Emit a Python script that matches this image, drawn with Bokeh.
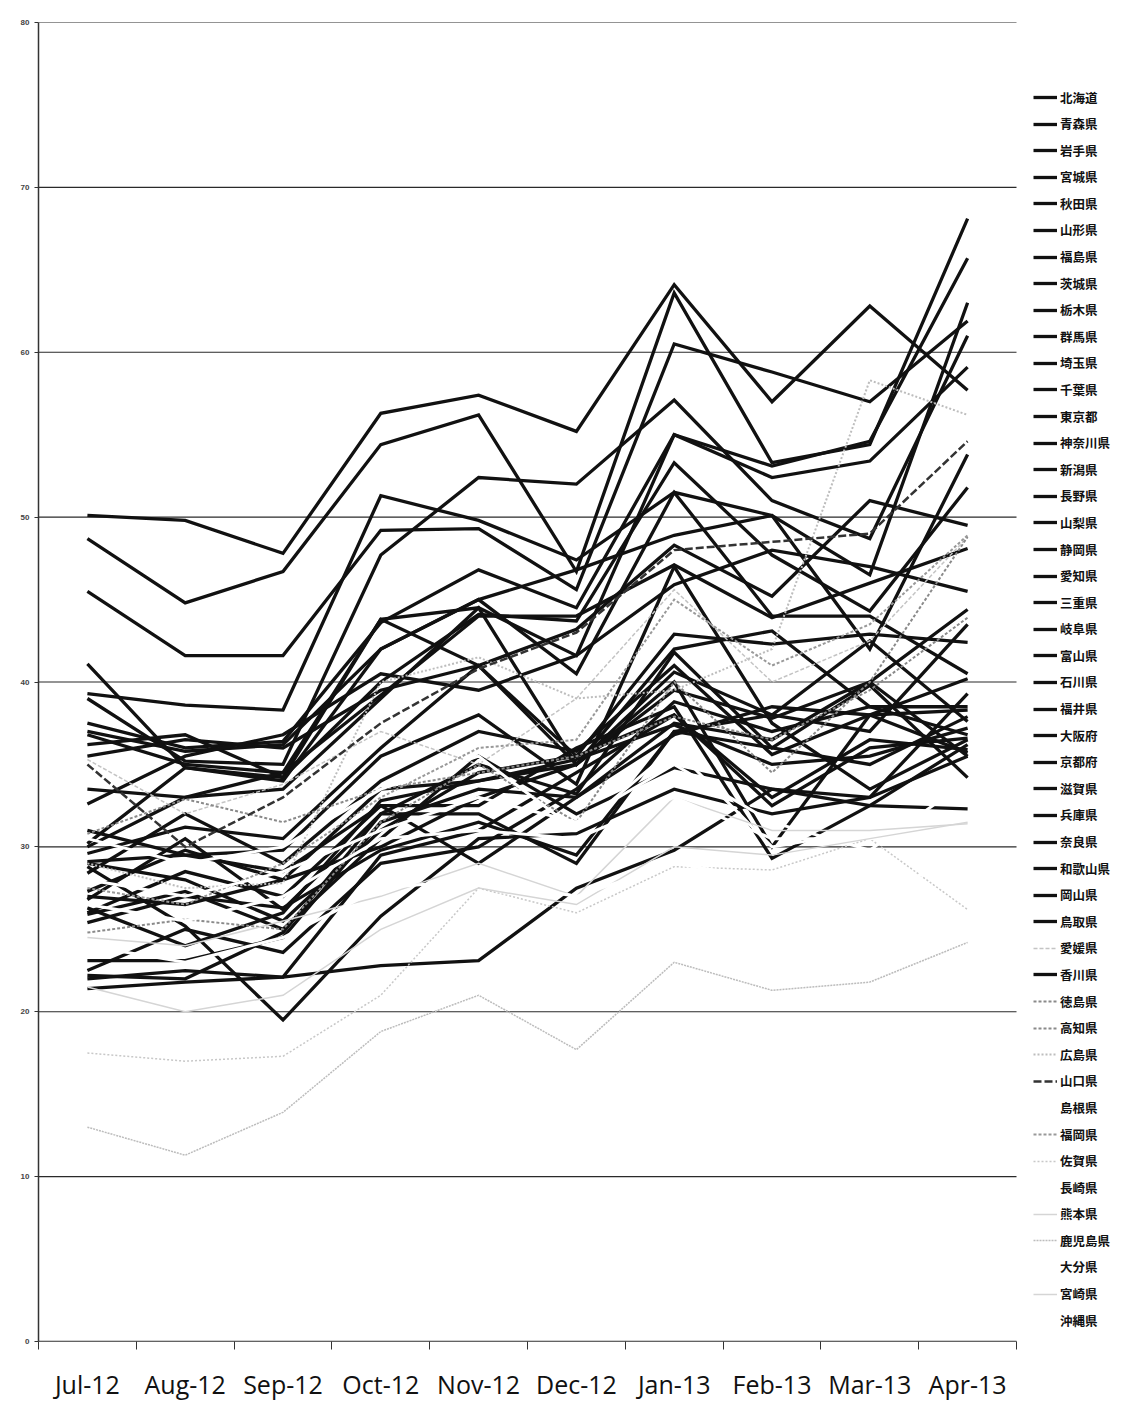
from bokeh.plotting import figure
from bokeh.models import Range1d, FixedTicker, Legend, LegendItem
from bokeh.embed import file_html
from bokeh.resources import INLINE

months = ["Jul-12", "Aug-12", "Sep-12", "Oct-12", "Nov-12", "Dec-12", "Jan-13", "Feb-13", "Mar-13", "Apr-13"]
y_ticks = [0, 10, 20, 30, 40, 50, 60, 70, 80]

hokkaido = [50.1, 49.8, 47.8, 56.3, 57.4, 55.2, 64.1, 57.0, 62.8, 57.7]
aomori = [48.7, 44.8, 46.7, 54.4, 56.2, 46.7, 63.6, 53.3, 54.4, 68.1]
iwate = [45.5, 41.6, 41.6, 49.2, 49.3, 45.6, 60.5, 58.8, 57.0, 61.9]
miyagi = [41.1, 34.8, 34.2, 43.8, 44.5, 41.6, 55.0, 53.1, 54.6, 65.7]
akita = [39.3, 38.6, 38.3, 51.3, 49.8, 47.4, 51.5, 50.1, 46.5, 63.0]
yamagata = [39.0, 35.2, 35.0, 47.7, 52.4, 52.0, 57.1, 51.0, 48.7, 61.0]
fukushima = [37.5, 36.0, 36.4, 43.6, 46.8, 44.5, 55.0, 52.4, 53.4, 59.1]
ibaraki = [37.0, 35.8, 36.2, 42.0, 45.0, 46.8, 48.9, 50.1, 42.0, 53.8]
tochigi = [36.2, 36.8, 34.2, 40.0, 44.1, 43.7, 53.3, 47.7, 44.3, 51.8]
gunma = [35.5, 36.5, 36.0, 39.5, 41.0, 43.2, 48.3, 45.2, 51.0, 49.5]
saitama = [33.5, 33.0, 34.5, 39.2, 44.0, 44.0, 47.1, 43.9, 46.0, 48.1]
chiba = [32.6, 35.5, 36.8, 40.5, 39.5, 41.6, 45.9, 48.0, 47.0, 45.5]
tokyo = [36.8, 35.0, 34.5, 43.8, 41.0, 35.5, 42.9, 42.3, 42.9, 42.4]
kanagawa = [30.2, 34.8, 34.0, 42.0, 45.0, 40.5, 51.5, 44.0, 44.0, 40.5]
niigata = [30.0, 33.0, 33.5, 39.0, 44.5, 35.0, 42.0, 43.1, 38.5, 38.5]
nagano = [29.6, 31.2, 30.5, 36.0, 41.0, 35.0, 40.6, 38.0, 42.5, 37.6]
yamanashi = [29.1, 29.5, 29.8, 35.5, 38.0, 33.8, 47.0, 37.5, 33.5, 36.5]
shizuoka = [28.4, 32.0, 29.0, 34.0, 37.0, 35.8, 41.0, 35.6, 38.0, 35.7]
aichi = [27.3, 29.8, 28.0, 33.5, 34.0, 35.0, 39.5, 37.8, 40.0, 35.5]
mie = [26.8, 30.5, 26.2, 32.0, 35.0, 33.2, 41.8, 36.0, 39.8, 34.2]
gifu = [26.0, 28.5, 27.0, 32.5, 32.5, 36.0, 38.5, 29.3, 32.5, 36.2]
toyama = [25.4, 27.0, 26.3, 29.8, 31.5, 29.5, 37.0, 36.0, 35.0, 37.9]
ishikawa = [29.0, 28.0, 25.5, 31.0, 34.5, 35.5, 38.0, 33.0, 36.5, 35.9]
fukui = [31.0, 29.5, 28.5, 32.5, 29.0, 33.0, 36.8, 38.5, 38.0, 38.3]
osaka = [28.8, 25.2, 19.5, 25.8, 30.5, 30.8, 33.5, 32.0, 33.0, 35.5]
kyoto = [27.0, 26.5, 28.0, 30.0, 33.0, 35.0, 40.0, 30.0, 38.0, 40.2]
shiga = [23.1, 23.1, 24.5, 31.5, 33.5, 33.0, 37.5, 36.5, 40.0, 44.4]
hyogo = [22.5, 25.0, 23.6, 29.0, 30.0, 33.5, 38.8, 37.0, 38.5, 36.8]
nara = [25.9, 27.3, 25.0, 30.5, 35.5, 32.0, 34.8, 33.5, 32.5, 32.3]
wakayama = [22.0, 22.5, 22.1, 29.5, 31.0, 34.5, 38.0, 32.5, 36.0, 36.6]
okayama = [26.3, 24.0, 26.0, 32.8, 34.0, 35.3, 37.4, 35.0, 35.5, 37.2]
tottori = [21.4, 21.8, 22.1, 22.8, 23.1, 27.5, 29.8, 33.5, 33.0, 39.3]
ehime = [35.3, 32.0, 33.8, 37.0, 35.0, 39.0, 45.6, 40.0, 42.5, 48.8]
kagawa = [22.2, 22.0, 24.8, 32.0, 32.0, 29.0, 37.0, 38.0, 37.0, 43.5]
tokushima = [30.8, 32.9, 31.5, 33.5, 34.5, 35.5, 37.9, 36.5, 39.5, 43.9]
kochi = [24.8, 25.6, 25.0, 31.5, 35.0, 31.5, 40.0, 34.5, 40.0, 48.8]
hiroshima = [29.0, 27.5, 27.8, 40.0, 41.5, 39.0, 39.5, 42.0, 58.3, 56.2]
yamaguchi = [35.0, 30.0, 33.0, 37.5, 40.8, 43.0, 48.0, 48.5, 49.0, 54.6]
shimane = [30.5, 29.0, 30.0, 33.5, 35.5, 31.0, 36.0, 30.0, 31.0, 32.0]
fukuoka = [27.5, 26.5, 29.0, 33.0, 36.0, 36.5, 45.0, 41.0, 43.5, 48.9]
saga = [17.5, 17.0, 17.3, 21.0, 27.5, 26.0, 28.8, 28.6, 30.5, 26.2]
nagasaki = [28.0, 27.0, 28.5, 31.0, 33.0, 31.5, 35.0, 31.5, 29.8, 34.0]
kumamoto = [24.5, 24.0, 25.5, 27.0, 29.0, 27.0, 33.0, 31.0, 31.0, 31.4]
kagoshima = [13.0, 11.3, 13.9, 18.8, 21.0, 17.7, 23.0, 21.3, 21.8, 24.2]
oita = [26.5, 25.5, 27.0, 30.5, 31.0, 30.5, 33.0, 30.5, 30.5, 30.8]
miyazaki = [21.5, 20.0, 21.0, 25.0, 27.5, 26.5, 30.0, 29.5, 30.5, 31.5]
okinawa = [24.0, 23.0, 24.5, 27.5, 28.0, 27.0, 29.0, 28.0, 27.5, 29.0]

names = ["北海道", "青森県", "岩手県", "宮城県", "秋田県", "山形県", "福島県", "茨城県", "栃木県", "群馬県",
         "埼玉県", "千葉県", "東京都", "神奈川県", "新潟県", "長野県", "山梨県", "静岡県", "愛知県", "三重県",
         "岐阜県", "富山県", "石川県", "福井県", "大阪府", "京都府", "滋賀県", "兵庫県", "奈良県", "和歌山県",
         "岡山県", "鳥取県", "愛媛県", "香川県", "徳島県", "高知県", "広島県", "山口県", "島根県", "福岡県",
         "佐賀県", "長崎県", "熊本県", "鹿児島県", "大分県", "宮崎県", "沖縄県"]
series = [hokkaido, aomori, iwate, miyagi, akita, yamagata, fukushima, ibaraki, tochigi, gunma,
          saitama, chiba, tokyo, kanagawa, niigata, nagano, yamanashi, shizuoka, aichi, mie,
          gifu, toyama, ishikawa, fukui, osaka, kyoto, shiga, hyogo, nara, wakayama,
          okayama, tottori, ehime, kagawa, tokushima, kochi, hiroshima, yamaguchi, shimane, fukuoka,
          saga, nagasaki, kumamoto, kagoshima, oita, miyazaki, okinawa]

# styles (color, width, dash)
BLACK = ("#111111", 3.3, "solid")
STY = {
    "愛媛県": ("#c4c4c4", 1.5, "4 2"),
    "徳島県": ("#8a8a8a", 2, "3 2"),
    "高知県": ("#8a8a8a", 2, "3 2"),
    "広島県": ("#bdbdbd", 2, "2 2"),
    "山口県": ("#333333", 2.5, "8 3"),
    "島根県": ("#ffffff", 3, "solid"),
    "福岡県": ("#999999", 2, "3 2"),
    "佐賀県": ("#c8c8c8", 1.5, "2 2"),
    "長崎県": ("#ffffff", 3, "solid"),
    "熊本県": ("#d5d5d5", 1.5, "solid"),
    "鹿児島県": ("#bcbcbc", 1.5, "2 1"),
    "大分県": ("#ffffff", 3, "solid"),
    "宮崎県": ("#d5d5d5", 1.5, "solid"),
    "沖縄県": ("#ffffff", 3, "solid"),
}

n_cat = len(months)
xs = [i + 0.5 for i in range(n_cat)]

# plot area spans 38..1016 px for the 10 months; frame extended to the right edge to hold the legend
PX_PER_CAT = (1016 - 38) / n_cat
x_max = (1126 - 38) / PX_PER_CAT

p = figure(width=1126, height=1403, output_backend="svg", toolbar_location=None,
           x_range=Range1d(0, x_max), y_range=Range1d(0, 80),
           min_border_left=38, min_border_right=0, min_border_top=22, min_border_bottom=55)
p.outline_line_color = None
p.background_fill_color = "white"
p.border_fill_color = "white"

p.xgrid.visible = False
p.ygrid.visible = False
# horizontal gridlines limited to the category area
p.segment(x0=[0] * len(y_ticks), x1=[n_cat] * len(y_ticks), y0=y_ticks, y1=y_ticks,
          line_color="#2a2a2a", line_width=1.2)
# x axis baseline
p.segment(x0=[0], x1=[n_cat], y0=[0], y1=[0], line_color="#333333", line_width=1.5)

yax = p.yaxis[0]
yax.ticker = FixedTicker(ticks=y_ticks)
yax.major_tick_out = 4
yax.major_tick_in = 0
yax.minor_tick_out = 0
yax.minor_tick_in = 0
yax.major_label_text_font = "Liberation Sans"
yax.major_label_text_font_size = "8px"
yax.major_label_text_font_style = "bold"
yax.major_label_standoff = 5
yax.axis_line_color = "#333333"
yax.axis_line_width = 1.5
yax.major_tick_line_color = "#333333"

xax = p.xaxis[0]
xax.ticker = FixedTicker(ticks=xs, minor_ticks=list(range(0, n_cat + 1)))
xax.major_label_overrides = {x: m for x, m in zip(xs, months)}
xax.major_tick_out = 0
xax.major_tick_in = 0
xax.minor_tick_out = 8
xax.minor_tick_in = 0
xax.minor_tick_line_color = "#333333"
xax.axis_line_color = None
xax.major_label_text_font = "Open Sans"
xax.major_label_text_font_size = "25px"
xax.major_label_text_color = "#111111"
xax.major_label_standoff = 17

renderers = []
for name, vals in zip(names, series):
    color, width, dash = STY.get(name, BLACK)
    r = p.line(xs, vals, line_color=color, line_width=width, line_dash=dash, line_join="miter")
    renderers.append(r)

for i, (name, r) in enumerate(zip(names, renderers)):
    yc = 104 + i * 26.59
    leg = Legend(items=[LegendItem(label=name, renderers=[r])],
                 location=(995, 1338 - yc),
                 padding=0, margin=0, spacing=0,
                 border_line_color=None, background_fill_alpha=0,
                 glyph_width=24, glyph_height=20, label_height=20, label_standoff=3,
                 label_text_font="Noto Sans CJK JP", label_text_font_size="12.5px",
                 label_text_font_style="bold", label_text_color="#111111")
    p.add_layout(leg)

open("out.html", "w").write(file_html(p, INLINE))
